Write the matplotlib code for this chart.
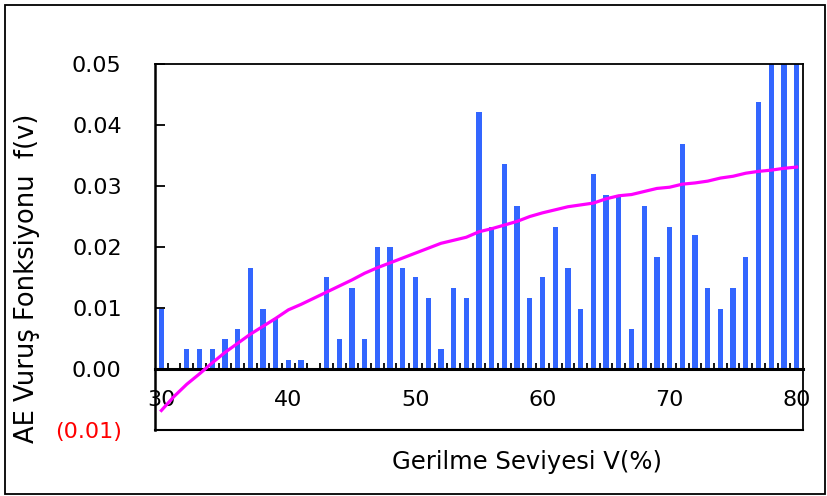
import numpy as np
import matplotlib
matplotlib.use('Agg')
import matplotlib.pyplot as plt
from matplotlib.patches import Rectangle
from matplotlib.ticker import FixedLocator

plt.rcParams['font.family'] = ['DejaVu Sans']

# stress level (%) and AE hit function f(v)
levels = np.arange(30, 81)
hits = [0.0098, 0.0, 0.0033, 0.0033, 0.0033, 0.0050, 0.0065, 0.0166, 0.0098, 0.0083,
        0.0015, 0.0015, 0.0, 0.0151, 0.0050, 0.0132, 0.0050, 0.0200, 0.0200, 0.0166,
        0.0151, 0.0117, 0.0033, 0.0132, 0.0117, 0.0421, 0.0233, 0.0336, 0.0268, 0.0117,
        0.0151, 0.0233, 0.0166, 0.0098, 0.0319, 0.0286, 0.0286, 0.0065, 0.0268, 0.0184,
        0.0233, 0.0369, 0.0219, 0.0132, 0.0098, 0.0132, 0.0184, 0.0437, 0.0600, 0.0600,
        0.0600]
trend = [-0.0068, -0.0045, -0.0025, -0.0008, 0.0010, 0.0027, 0.0042, 0.0057, 0.0070, 0.0083,
         0.0097, 0.0106, 0.0116, 0.0126, 0.0136, 0.0146, 0.0157, 0.0166, 0.0174, 0.0182,
         0.0190, 0.0198, 0.0206, 0.0211, 0.0216, 0.0225, 0.0230, 0.0236, 0.0242, 0.0250,
         0.0256, 0.0261, 0.0266, 0.0269, 0.0272, 0.0279, 0.0284, 0.0286, 0.0291, 0.0296,
         0.0298, 0.0303, 0.0305, 0.0308, 0.0313, 0.0316, 0.0321, 0.0324, 0.0326, 0.0329,
         0.0331]

xticks = [30, 40, 50, 60, 70, 80]
yticks = [-0.01, 0.0, 0.01, 0.02, 0.03, 0.04, 0.05]
ylabels = ['(0.01)', '0.00', '0.01', '0.02', '0.03', '0.04', '0.05']

fig = plt.figure(figsize=(8.27, 4.96), dpi=100)
ax = fig.add_axes([155/827, 1-430/496, 648/827, 366/496])

ax.bar(levels, hits, width=0.42, color='#3366ff', zorder=2)
ax.plot(levels, trend, color='#ff00ff', lw=2.3, zorder=3)

ax.set_xlim(29.5, 80.5)
ax.set_ylim(-0.01, 0.05)

# x axis crosses at zero, frame closed with a separate line at bottom
ax.spines['bottom'].set_position(('data', 0))
ax.spines['bottom'].set_linewidth(2.2)
ax.spines['left'].set_linewidth(1.8)
ax.spines['top'].set_linewidth(1.3)
ax.spines['right'].set_linewidth(1.3)
ax.plot([0, 1], [0, 0], transform=ax.transAxes, color='black', lw=1.5, clip_on=False)

ax.xaxis.set_major_locator(FixedLocator(xticks))
ax.xaxis.set_minor_locator(FixedLocator(np.arange(30.5, 80.5, 1)))
ax.tick_params(axis='x', which='major', length=0, pad=15, labelsize=16)
ax.tick_params(axis='x', which='minor', direction='in', length=4, width=1.3)

ax.set_yticks(yticks)
ax.set_yticklabels(ylabels)
ax.tick_params(axis='y', direction='in', length=7, width=1.3, pad=24, labelsize=16)
ax.get_yticklabels()[0].set_color('red')

ax.set_ylabel('AE Vuruş Fonksiyonu  f(v)', fontsize=18.5)
ax.yaxis.set_label_coords(-0.177, 0.414)
fig.text(527/827, 1-462/496, 'Gerilme Seviyesi V(%)', fontsize=17.5, ha='center', va='center')

fig.patches.append(Rectangle((5/827, 2/496), 820/827, 489/496, transform=fig.transFigure,
                             fill=False, edgecolor='black', lw=1.3))

fig.savefig('out.png', dpi=100)
